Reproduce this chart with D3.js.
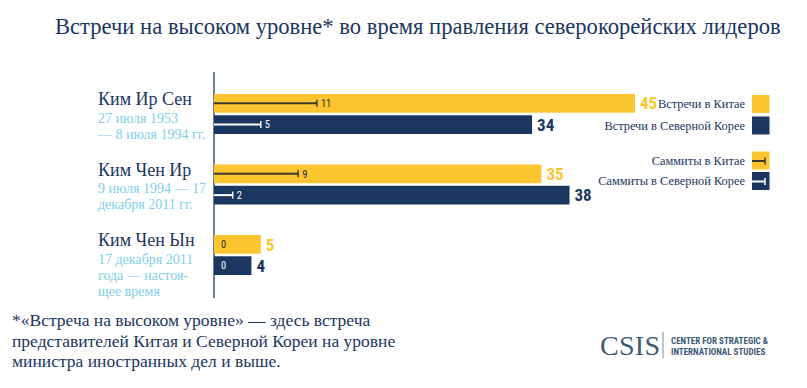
<!DOCTYPE html>
<meta charset="utf-8">
<style>
body { margin: 0; background: #fff; }
svg { display: block; }
</style>
<svg id="chart" width="807" height="388"></svg>
<script src="https://cdn.jsdelivr.net/npm/d3@7"></script>
<script>
// data
var leaders = ["Ким Ир Сен", "Ким Чен Ир", "Ким Чен Ын"];
var periods = [
  ["27 июля 1953", "— 8 июля 1994 гг."],
  ["9 июля 1994 — 17", "декабря 2011 гг."],
  ["17 декабря 2011", "года — настоя-", "щее время"]
];
var meetingsChina = [45, 35, 5];
var meetingsNK = [34, 38, 4];
var summitsChina = [11, 9, 0];
var summitsNK = [5, 2, 0];

var legendBars = ["Встречи в Китае", "Встречи в Северной Корее"];
var legendSummits = ["Саммиты в Китае", "Саммиты в Северной Корее"];
var title = "Встречи на высоком уровне* во время правления северокорейских лидеров";
var footnote = [
  "*«Встреча на высоком уровне» — здесь встреча",
  "представителей Китая и Северной Кореи на уровне",
  "министра иностранных дел и выше."
];

var yellow = "#fdc530",
    navy = "#1b365f",
    lightBlue = "#7fd0ea",
    dark = "#3a3a2e";

var serif = "'Liberation Serif'";
var narrow = "'Roboto Condensed'";

var svg = d3.select("#chart");

var x = d3.scaleLinear().domain([0, 45]).range([214, 635]);

var y = d3.scaleBand().domain(leaders).range([94, 275]).paddingInner(0.433);
var ySeries = d3.scaleBand().domain(["china", "nk"]).range([0, y.bandwidth()]).paddingInner(0.12);

var rows = leaders.map(function(name, i) {
  return {
    name: name,
    period: periods[i],
    series: [
      { key: "china", value: meetingsChina[i], summit: summitsChina[i], fill: yellow, line: dark, summitLabel: "#2a2a22" },
      { key: "nk", value: meetingsNK[i], summit: summitsNK[i], fill: navy, line: "#fff", summitLabel: "#fff" }
    ]
  };
});

// title
svg.append("text")
  .attr("x", 55).attr("y", 34)
  .attr("font-family", serif)
  .attr("font-size", 22.6)
  .attr("fill", navy)
  .text(title);

// axis line
svg.append("line")
  .attr("x1", x(0)).attr("x2", x(0))
  .attr("y1", 72).attr("y2", 298)
  .attr("stroke", "#3b5677").attr("stroke-width", 1.5);

var group = svg.selectAll("g.row").data(rows).enter().append("g")
  .attr("class", "row")
  .attr("transform", function(d) { return "translate(0," + y(d.name) + ")"; });

// leader names + periods
group.append("text")
  .attr("x", 98).attr("y", 11)
  .attr("font-family", serif)
  .attr("font-size", 18)
  .attr("fill", navy)
  .text(function(d) { return d.name; });

group.each(function(d) {
  d3.select(this).selectAll("text.period").data(d.period).enter().append("text")
    .attr("class", "period")
    .attr("x", 98)
    .attr("y", function(p, i) { return 28.5 + i * 16.3; })
    .attr("font-family", serif)
    .attr("font-size", 14)
    .attr("fill", lightBlue)
    .text(function(p) { return p; });
});

var bar = group.selectAll("g.bar").data(function(d) { return d.series; }).enter().append("g")
  .attr("class", "bar")
  .attr("transform", function(d) { return "translate(0," + ySeries(d.key) + ")"; });

var bh = ySeries.bandwidth();

bar.append("rect")
  .attr("x", x(0))
  .attr("y", 0)
  .attr("width", function(d) { return x(d.value) - x(0); })
  .attr("height", bh)
  .attr("fill", function(d) { return d.fill; });

bar.append("text")
  .attr("x", function(d) { return x(d.value) + 5; })
  .attr("y", bh / 2)
  .attr("dy", "0.36em")
  .attr("font-family", narrow)
  .attr("font-size", 17)
  .attr("font-weight", "bold")
  .attr("fill", function(d) { return d.key == "china" ? yellow : navy; })
  .text(function(d) { return d.value; });

// summits as error-bar style lines
var summit = bar.filter(function(d) { return d.summit > 0; });
summit.append("line")
  .attr("x1", x(0)).attr("x2", function(d) { return x(d.summit); })
  .attr("y1", bh / 2).attr("y2", bh / 2)
  .attr("stroke", function(d) { return d.line; })
  .attr("stroke-width", 2);
summit.append("line")
  .attr("x1", function(d) { return x(d.summit); }).attr("x2", function(d) { return x(d.summit); })
  .attr("y1", bh / 2 - 3.5).attr("y2", bh / 2 + 3.5)
  .attr("stroke", function(d) { return d.line; })
  .attr("stroke-width", 1.5);

bar.append("text")
  .attr("x", function(d) { return x(d.summit) + (d.summit > 0 ? 4 : 7); })
  .attr("y", bh / 2)
  .attr("dy", "0.36em")
  .attr("font-family", narrow)
  .attr("font-size", 10.5)
  .attr("fill", function(d) { return d.summitLabel; })
  .text(function(d) { return d.summit; });

// legend
var legendY = [95, 116.5, 151.5, 172];
var legendItems = [
  { text: legendBars[0], fill: yellow },
  { text: legendBars[1], fill: navy },
  { text: legendSummits[0], fill: yellow, line: dark },
  { text: legendSummits[1], fill: navy, line: "#fff" }
];
var leg = svg.selectAll("g.legend").data(legendItems).enter().append("g")
  .attr("class", "legend")
  .attr("transform", function(d, i) { return "translate(752," + legendY[i] + ")"; });
leg.append("rect")
  .attr("width", 17.5).attr("height", 18)
  .attr("fill", function(d) { return d.fill; });
leg.append("text")
  .attr("x", -7).attr("y", 13)
  .attr("text-anchor", "end")
  .attr("font-family", serif)
  .attr("font-size", 12.4)
  .attr("fill", navy)
  .text(function(d) { return d.text; });
var legLine = leg.filter(function(d) { return d.line; });
legLine.append("line")
  .attr("x1", 0).attr("x2", 13).attr("y1", 9.5).attr("y2", 9.5)
  .attr("stroke", function(d) { return d.line; }).attr("stroke-width", 2);
legLine.append("line")
  .attr("x1", 13).attr("x2", 13).attr("y1", 6).attr("y2", 13)
  .attr("stroke", function(d) { return d.line; }).attr("stroke-width", 1.5);

// footnote
svg.selectAll("text.foot").data(footnote).enter().append("text")
  .attr("class", "foot")
  .attr("x", 12)
  .attr("y", function(d, i) { return 326 + i * 20.5; })
  .attr("font-family", serif)
  .attr("font-size", 17.5)
  .attr("fill", navy)
  .text(function(d) { return d; });

// CSIS logo
var logo = svg.append("g").attr("transform", "translate(600,355)");
logo.append("text")
  .attr("font-family", serif)
  .attr("font-size", 28)
  .attr("letter-spacing", 0.3)
  .attr("fill", "#3d5a78")
  .text("CSIS");
logo.append("line")
  .attr("x1", 63).attr("x2", 63).attr("y1", -23).attr("y2", 3)
  .attr("stroke", "#7a8da2").attr("stroke-width", 1);
logo.selectAll("text.sub").data(["CENTER FOR STRATEGIC &", "INTERNATIONAL STUDIES"]).enter().append("text")
  .attr("class", "sub")
  .attr("x", 71)
  .attr("y", function(d, i) { return -11 + i * 10.5; })
  .attr("font-family", narrow)
  .attr("font-size", 9)
  .attr("font-weight", "bold")
  .attr("fill", "#3d5a78")
  .text(function(d) { return d; });
</script>
